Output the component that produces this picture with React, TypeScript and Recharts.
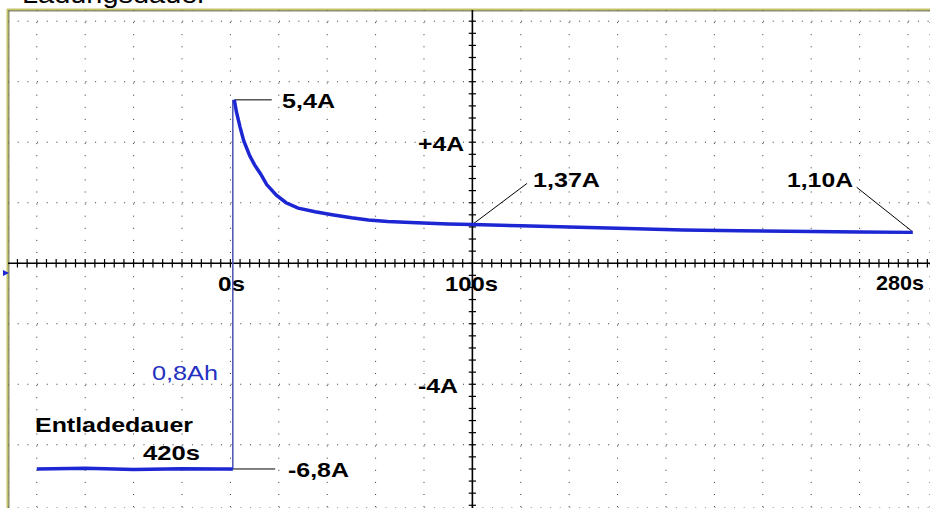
import { LineChart, Line, XAxis, YAxis, CartesianGrid, ReferenceLine } from 'recharts';

// oscilloscope trace: discharge (-6.8A), jump at 0s, then charge current decaying
const dischargeTime: number[] = [-80, -60, -40, -20, -5, 1];
const dischargeCurrent: number[] = [-6.8, -6.78, -6.82, -6.79, -6.8, -6.8];

const jumpTime: number[] = [1, 1];
const jumpCurrent: number[] = [-6.8, 5.4];

const chargeTime: number[] = [
    1.6, 2.5, 4, 5.5, 8, 10, 12.5, 15, 19, 23, 28, 35, 42, 50, 57, 65, 77, 90,
    100, 120, 140, 160, 187, 210, 240, 260, 282,
];
const chargeCurrent: number[] = [
    5.4, 5.0, 4.5, 4.05, 3.55, 3.25, 2.95, 2.6, 2.25, 2.0, 1.82, 1.7, 1.6, 1.5, 1.43, 1.38, 1.34, 1.3,
    1.28, 1.24, 1.2, 1.16, 1.1, 1.07, 1.05, 1.03, 1.02,
];

const gridTimes: number[] = [-80, -60, -40, -20, 0, 20, 40, 60, 80, 100, 120, 140, 160, 180, 200, 220, 240, 260, 280];
const gridCurrents: number[] = [-8, -6, -4, -2, 0, 2, 4, 6, 8];

const X_DOMAIN: [number, number] = [-91.9, 289.1];
const Y_DOMAIN: [number, number] = [-8.09, 8.37];

const BLUE = '#1c26d2';
const FONT = '"Liberation Sans", Arial, sans-serif';

// minor ticks on the two scope axes
const xMinor: number[] = [];
for (let t = -88; t <= 288; t += 4) xMinor.push(t);
const yMinor: number[] = [];
for (let v = -8; v <= 8.3; v += 0.4) yMinor.push(Math.round(v * 10) / 10);

const toRows = (ts: number[], vs: number[]) => ts.map((t, i) => ({ t, v: vs[i] }));

function Label({ x, y, w, children, color = '#000', bold = true }: { x: number, y: number, w: number, children: string, color?: string, bold?: boolean }) {
    return <text x={x} y={y} textLength={w} lengthAdjust="spacingAndGlyphs"
        fill={color} fontFamily={FONT} fontSize={21} fontWeight={bold ? 'bold' : 'normal'}>{children}</text>;
}

export default function App() {
    return <div style={{ position: 'absolute', left: 0, top: 0, background: '#fff' }}>
        <LineChart width={930} height={508} margin={{ top: 10, right: 0, bottom: 0, left: 8 }}>
            <XAxis type="number" dataKey="t" domain={X_DOMAIN} ticks={gridTimes} allowDataOverflow hide />
            <YAxis type="number" dataKey="v" domain={Y_DOMAIN} ticks={gridCurrents} allowDataOverflow hide />

            <CartesianGrid vertical={false} stroke="#333" strokeDasharray="1 8.68" />
            <CartesianGrid horizontal={false} stroke="#333" strokeDasharray="1 11.1" />

            {/* axes through the middle */}
            <ReferenceLine y={0} stroke="#000" strokeWidth={1.6} />
            <ReferenceLine x={100} stroke="#000" strokeWidth={1.6} />
            {xMinor.map(t =>
                <ReferenceLine key={`xt-${t}`} segment={[{ x: t, y: -0.14 }, { x: t, y: 0.14 }]} stroke="#000" strokeWidth={1.2} />
            )}
            {yMinor.map(v =>
                <ReferenceLine key={`yt-${v}`} segment={[{ x: 98.5, y: v }, { x: 101.5, y: v }]} stroke="#000" strokeWidth={1.2} />
            )}

            {/* leader lines */}
            <ReferenceLine segment={[{ x: 1.6, y: 5.4 }, { x: 17.1, y: 5.4 }]} stroke="#000" strokeWidth={1} />
            <ReferenceLine segment={[{ x: 100, y: 1.28 }, { x: 122.6, y: 2.64 }]} stroke="#000" strokeWidth={1} />
            <ReferenceLine segment={[{ x: 258.8, y: 2.51 }, { x: 281.6, y: 1.06 }]} stroke="#000" strokeWidth={1} />
            <ReferenceLine segment={[{ x: -7, y: -6.8 }, { x: 18.5, y: -6.8 }]} stroke="#000" strokeWidth={1} />

            <Line data={toRows(jumpTime, jumpCurrent)} dataKey="v" stroke="#4b50b4" strokeWidth={1.5} dot={false} isAnimationActive={false} />
            <Line data={toRows(dischargeTime, dischargeCurrent)} dataKey="v" stroke={BLUE} strokeWidth={3.5} dot={false} isAnimationActive={false} />
            <Line data={toRows(chargeTime, chargeCurrent)} dataKey="v" stroke={BLUE} strokeWidth={3.5} dot={false} isAnimationActive={false} />

            {/* frame (left + top), cropped title */}
            <line x1={7} y1={9.6} x2={930} y2={9.6} stroke="#c3c36a" strokeWidth={2} />
            <line x1={8} y1={10.9} x2={930} y2={10.9} stroke="#66663f" strokeWidth={1} />
            <line x1={7.5} y1={9} x2={7.5} y2={508} stroke="#c3c36a" strokeWidth={2} />
            <line x1={8.9} y1={10.5} x2={8.9} y2={508} stroke="#66663f" strokeWidth={1} />
            <polygon points="3,270 9,273 3,276" fill={BLUE} />
            <text x={22} y={2.5} fontFamily={FONT} fontSize={26} fill="#000" textLength={185} lengthAdjust="spacingAndGlyphs">Ladungsdauer</text>

            <Label x={282} y={108} w={53}>5,4A</Label>
            <Label x={418} y={150.5} w={46}>+4A</Label>
            <Label x={533} y={187} w={67}>1,37A</Label>
            <Label x={787} y={187} w={66}>1,10A</Label>
            <Label x={218} y={291} w={27}>0s</Label>
            <Label x={445} y={291} w={53}>100s</Label>
            <Label x={876} y={290} w={48}>280s</Label>
            <Label x={418} y={393} w={40}>-4A</Label>
            <Label x={152} y={380} w={66} color="#2430c0" bold={false}>0,8Ah</Label>
            <Label x={35} y={431.5} w={158}>Entladedauer</Label>
            <Label x={143} y={460} w={57}>420s</Label>
            <Label x={288} y={476.5} w={61}>-6,8A</Label>
        </LineChart>
    </div>;
}
